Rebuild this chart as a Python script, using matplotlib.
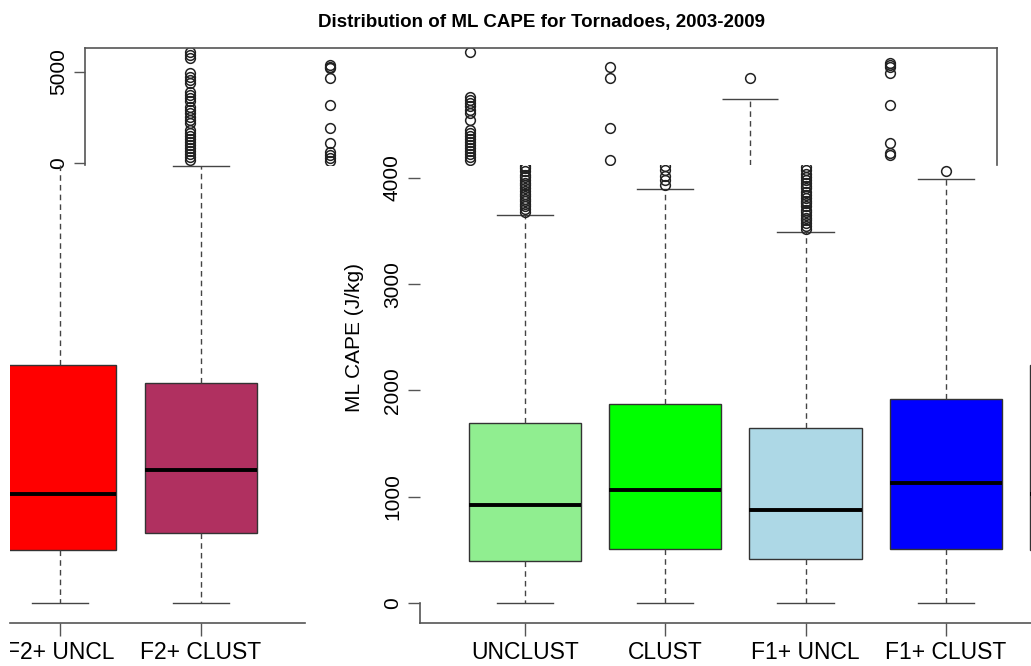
import matplotlib
matplotlib.use('Agg')
import matplotlib.pyplot as plt
from matplotlib.transforms import Bbox, TransformedBbox

W, H, DPI = 1031, 666, 100
plt.rcParams['font.family'] = ['Liberation Sans', 'DejaVu Sans']

# ---------------- data ----------------
title = 'Distribution of ML CAPE for Tornadoes, 2003-2009'
ylabel = 'ML CAPE (J/kg)'

left_labels = ['F2+ UNCL', 'F2+ CLUST']
left_colors = ['#FF0000', '#B03060']
left_q1 = [499, 658]
left_med = [1025, 1251]
left_q3 = [2239, 2070]
left_lo = [0, 0]
left_hi = [4500, 4110]

right_labels = ['UNCLUST', 'CLUST', 'F1+ UNCL', 'F1+ CLUST', 'F2+ UNCL']
right_colors = ['#90EE90', '#00FF00', '#ADD8E6', '#0000FF', '#FF0000']
right_q1 = [395, 508, 414, 508, 499]
right_med = [922, 1063, 875, 1129, 1025]
right_q3 = [1693, 1872, 1646, 1919, 2239]
right_lo = [0, 0, 0, 0, 0]
right_hi = [3650, 3895, 3490, 3989, 4500]
right_fliers = [
    [3680, 3705, 3730, 3755, 3780, 3800, 3825, 3850, 3875, 3900, 3930, 3955,
     3980, 4005, 4030, 4060, 4090, 4115],
    [3935, 3975, 4020, 4070, 4110],
    [3520, 3545, 3570, 3600, 3625, 3650, 3680, 3700, 3730, 3760, 3785, 3810,
     3840, 3870, 3900, 3925, 3950, 3980, 4010, 4040, 4070, 4100],
    [4065],
    [],
]

top_fliers = [
    [6100, 5934, 5770, 4946, 4726, 4560, 4396, 3900, 3737, 3572, 3407, 3077,
     2912, 2748, 2528, 2363, 2198, 1813, 1649, 1484, 1319, 1154, 989, 824,
     659, 495, 330, 165],
    [5385, 5275, 5220, 4671, 3187, 1923, 1099, 604, 440, 275, 110],
    [6100, 3627, 3462, 3297, 3132, 2912, 2748, 2363, 1813, 1649, 1484, 1319,
     1154, 989, 824, 659, 495, 330, 165],
    [5275, 4671, 1923, 165],
    [4671],
    [5495, 5385, 5275, 4946, 3187, 1099, 549, 440],
]
top_whisker_group = 5
top_whisker_hi = 3517
top_ticks = [0, 5000]
main_ticks = [0, 1000, 2000, 3000, 4000]

# ---------------- styling ----------------
LINE = '#444444'
boxprops = dict(edgecolor='#333333', linewidth=1.0)
medianprops = dict(color='black', linewidth=2.8, solid_capstyle='butt')
whiskerprops = dict(color=LINE, linewidth=1.0, linestyle=(0, (4, 3)))
capprops = dict(color=LINE, linewidth=1.0)
flierprops = dict(marker='o', markerfacecolor='none', markeredgecolor='#222222',
                  markersize=7, markeredgewidth=1.1, linestyle='none')

fig = plt.figure(figsize=(W / DPI, H / DPI), dpi=DPI)


def ax_at(x0, y0, x1, y1):
    return fig.add_axes([x0 / W, 1 - y1 / H, (x1 - x0) / W, (y1 - y0) / H])


def stats(q1, med, q3, lo, hi, fl):
    return [dict(q1=a, med=b, q3=c, whislo=d, whishi=e, fliers=f)
            for a, b, c, d, e, f in zip(q1, med, q3, lo, hi, fl)]


# ---------------- top strip ----------------
axt = ax_at(85, 48, 997, 165)
for i, fl in enumerate(top_fliers, start=1):
    axt.plot([i] * len(fl), fl, **flierprops)
axt.vlines(top_whisker_group, -110, top_whisker_hi, **whiskerprops)
axt.hlines(top_whisker_hi, top_whisker_group - 0.2, top_whisker_group + 0.2, **capprops)
for s in ['top', 'left', 'right']:
    axt.spines[s].set_color('#555555')
    axt.spines[s].set_linewidth(1.2)
axt.spines['bottom'].set_visible(False)
axt.set_xticks([])
axt.set_yticks(top_ticks)
axt.set_yticklabels([str(t) for t in top_ticks], rotation=90, va='center', fontsize=15)
axt.tick_params(axis='y', length=8, width=1, color='#555555', pad=4)
axt.set_xlim(0.25, 6.764)
axt.set_ylim(-110, 6319)
axt.set_title(title, fontsize=13.5, fontweight='bold', pad=15)

YMIN, YMAX = -188, 4120

# ---------------- left (cut) panel ----------------
axl = ax_at(10, 165, 305, 623)
axl.set_facecolor('none')
axl.bxp(stats(left_q1, left_med, left_q3, left_lo, left_hi, [[], []]),
        positions=[1, 2], widths=0.8, capwidths=0.4, patch_artist=True,
        boxprops=boxprops, medianprops=medianprops, whiskerprops=whiskerprops,
        capprops=capprops, flierprops=flierprops)
for patch, c in zip(axl.patches, left_colors):
    patch.set_facecolor(c)
for s in ['top', 'left', 'right']:
    axl.spines[s].set_visible(False)
axl.spines['bottom'].set_color('#555555')
axl.spines['bottom'].set_linewidth(1.2)
axl.set_yticks([])
axl.set_xticks([1, 2])
axl.set_xticklabels(left_labels, fontsize=16.5)
axl.tick_params(axis='x', length=9, width=1, color='#555555', pad=4)
axl.set_xlim(0.645, 2.738)
axl.set_ylim(YMIN, YMAX)
clip = TransformedBbox(Bbox([[10 / W, 0], [1, 1]]), fig.transFigure)
for lbl in axl.get_xticklabels():
    lbl.set_clip_box(clip)
    lbl.set_clip_on(True)

# ---------------- right (main) panel ----------------
axr = ax_at(420, 165, 1031, 623)
axr.set_facecolor('none')
axr.bxp(stats(right_q1, right_med, right_q3, right_lo, right_hi, right_fliers),
        positions=[1, 2, 3, 4, 5], widths=0.8, capwidths=0.4, patch_artist=True,
        boxprops=boxprops, medianprops=medianprops, whiskerprops=whiskerprops,
        capprops=capprops, flierprops=flierprops)
for patch, c in zip(axr.patches, right_colors):
    patch.set_facecolor(c)
for s in ['top', 'right']:
    axr.spines[s].set_visible(False)
for s in ['left', 'bottom']:
    axr.spines[s].set_color('#555555')
    axr.spines[s].set_linewidth(1.2)
axr.spines['left'].set_bounds(YMIN, 0)
axr.set_yticks(main_ticks)
axr.set_yticklabels([str(t) for t in main_ticks], rotation=90, va='center', fontsize=15)
axr.tick_params(axis='y', length=9, width=1, color='#555555', pad=4)
axr.set_xticks([1, 2, 3, 4, 5])
axr.set_xticklabels(right_labels, fontsize=16.5)
axr.tick_params(axis='x', length=9, width=1, color='#555555', pad=4)
axr.set_xlim(0.252, 4.607)
axr.set_ylim(YMIN, YMAX)

fig.text(355 / W, 1 - 338 / H, ylabel, rotation=90, ha='center', va='center', fontsize=15)

fig.savefig('out.png', dpi=DPI)
